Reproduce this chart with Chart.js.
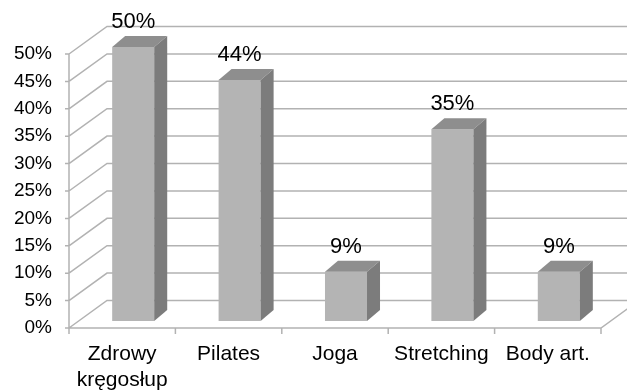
<!DOCTYPE html>
<html>
<head>
<meta charset="utf-8">
<script src="https://cdn.jsdelivr.net/npm/chart.js@4/dist/chart.umd.min.js"></script>
<style>
  html, body { margin: 0; padding: 0; background: #fff; }
  #wrap { width: 627px; height: 390px; }
</style>
</head>
<body>
<div id="wrap"><canvas id="c" width="627" height="390"></canvas></div>
<script>
// Survey answers: share of respondents per activity (%)
const categories = [["Zdrowy", "kręgosłup"], "Pilates", "Joga", "Stretching", "Body art."];
const values = [50, 44, 9, 35, 9];
const yTicks = [0, 5, 10, 15, 20, 25, 30, 35, 40, 45, 50];

// Oblique projection settings for the pseudo-3D look
const WALL_DX = 38, WALL_DY = 27.5;   // depth of the back wall
const BAR_SHIFT_X = 11, BAR_SHIFT_Y = 7; // bars sit in the middle of the floor
const BAR_DX = 13, BAR_DY = 11;       // depth of each box
const GRID = '#b2b2b2';
const FRONT = '#b4b4b4', TOP = '#8e8e8e', SIDE = '#7c7c7c';

const wallPlugin = {
  id: 'wall3d',
  beforeDatasetsDraw(chart) {
    const { ctx, chartArea: a, scales: { y } } = chart;
    ctx.save();
    ctx.strokeStyle = GRID;
    ctx.lineWidth = 1.5;
    ctx.beginPath();
    yTicks.forEach(v => {
      const py = y.getPixelForValue(v);
      // short tick on the front axis
      ctx.moveTo(a.left - 4, py);
      ctx.lineTo(a.left, py);
      // diagonal to the back wall, then along the wall
      ctx.moveTo(a.left, py);
      ctx.lineTo(a.left + WALL_DX, py - WALL_DY);
      ctx.lineTo(a.right + WALL_DX, py - WALL_DY);
    });
    // front vertical axis
    ctx.moveTo(a.left, y.getPixelForValue(50));
    ctx.lineTo(a.left, a.bottom);
    // floor front edge and right edge
    ctx.moveTo(a.left, a.bottom);
    ctx.lineTo(a.right, a.bottom);
    ctx.lineTo(a.right + WALL_DX, a.bottom - WALL_DY);
    // category separators below the floor
    const n = categories.length;
    for (let i = 0; i <= n; i++) {
      const px = a.left + (a.right - a.left) * i / n;
      ctx.moveTo(px, a.bottom);
      ctx.lineTo(px, a.bottom + 6);
    }
    ctx.stroke();
    ctx.restore();
  },
  afterDatasetsDraw(chart) {
    const { ctx } = chart;
    const meta = chart.getDatasetMeta(0);
    ctx.save();
    meta.data.forEach((bar, i) => {
      const { x, y: top, base, width } = bar.getProps(['x', 'y', 'base', 'width'], true);
      const l = x - width / 2 + BAR_SHIFT_X;
      const r = x + width / 2 + BAR_SHIFT_X;
      const t = top - BAR_SHIFT_Y;
      const b = base - BAR_SHIFT_Y;
      // front face
      ctx.fillStyle = FRONT;
      ctx.fillRect(l, t, r - l, b - t);
      // top face
      ctx.fillStyle = TOP;
      ctx.beginPath();
      ctx.moveTo(l, t);
      ctx.lineTo(l + BAR_DX, t - BAR_DY);
      ctx.lineTo(r + BAR_DX, t - BAR_DY);
      ctx.lineTo(r, t);
      ctx.closePath();
      ctx.fill();
      // side face
      ctx.fillStyle = SIDE;
      ctx.beginPath();
      ctx.moveTo(r, t);
      ctx.lineTo(r + BAR_DX, t - BAR_DY);
      ctx.lineTo(r + BAR_DX, b - BAR_DY);
      ctx.lineTo(r, b);
      ctx.closePath();
      ctx.fill();
      // value label
      ctx.fillStyle = '#000';
      ctx.font = '22px "Liberation Sans", Arial, sans-serif';
      ctx.textAlign = 'center';
      ctx.textBaseline = 'middle';
      ctx.fillText(values[i] + '%', (l + r) / 2, top - 32);
    });
    ctx.restore();
  }
};

new Chart(document.getElementById('c'), {
  type: 'bar',
  data: {
    labels: categories,
    datasets: [{
      data: values,
      backgroundColor: 'rgba(0,0,0,0)',
      borderWidth: 0,
      barPercentage: 0.395,
      categoryPercentage: 1
    }]
  },
  options: {
    responsive: false,
    animation: false,
    layout: { padding: { top: 54, right: 26, left: 0, bottom: 0 } },
    plugins: { legend: { display: false }, tooltip: { enabled: false } },
    scales: {
      x: {
        grid: { display: false, drawTicks: false },
        border: { display: false },
        ticks: {
          color: '#000',
          padding: 14,
          maxRotation: 0,
          autoSkip: false,
          font: { family: '"Liberation Sans", Arial, sans-serif', size: 21, lineHeight: 1.2 }
        },
        afterFit(s) { s.height = 62; }
      },
      y: {
        min: 0,
        max: 50,
        grid: { display: false, drawTicks: false },
        border: { display: false },
        ticks: {
          stepSize: 5,
          color: '#000',
          padding: 17,
          font: { family: '"Liberation Sans", Arial, sans-serif', size: 19 },
          callback: v => v + '%'
        },
        afterFit(s) { s.width = 69; }
      }
    }
  },
  plugins: [wallPlugin]
});
</script>
</body>
</html>
